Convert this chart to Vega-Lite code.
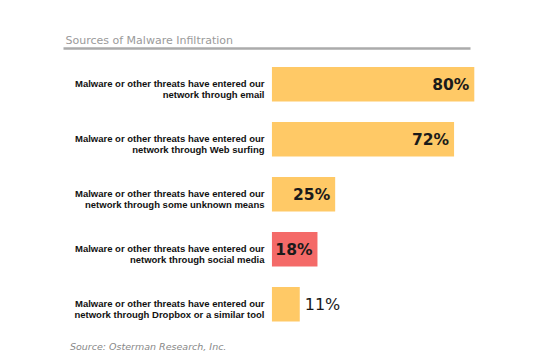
{
  "$schema": "https://vega.github.io/schema/vega-lite/v6.json",
  "autosize": "none",
  "width": 407,
  "height": 292.5,
  "padding": {"left": 63, "top": 48, "right": 85, "bottom": 18.5},
  "background": "white",
  "config": {"view": {"stroke": null}},
  "title": {
    "text": "Source: Osterman Research, Inc.",
    "orient": "bottom",
    "anchor": "start",
    "frame": "bounds",
    "font": "DejaVu Sans",
    "fontStyle": "italic",
    "fontWeight": "normal",
    "fontSize": 9.5,
    "color": "#888888",
    "dx": 7,
    "offset": 1
  },
  "data": {
    "values": [
      {"label": "Malware or other threats have entered our|network through email", "value": 80, "pct": "80%"},
      {"label": "Malware or other threats have entered our|network through Web surfing", "value": 72, "pct": "72%"},
      {"label": "Malware or other threats have entered our|network through some unknown means", "value": 25, "pct": "25%"},
      {"label": "Malware or other threats have entered our|network through social media", "value": 18, "pct": "18%"},
      {"label": "Malware or other threats have entered our|network through Dropbox or a similar tool", "value": 11, "pct": "11%"}
    ]
  },
  "encoding": {
    "y": {
      "field": "label",
      "type": "nominal",
      "sort": null,
      "scale": {"paddingInner": 0.373, "paddingOuter": 0.345},
      "axis": {
        "title": null,
        "orient": "left",
        "offset": -201,
        "domain": false,
        "ticks": false,
        "labelPadding": 0,
        "labelAlign": "right",
        "labelBaseline": "middle",
        "labelExpr": "split(datum.label, '|')",
        "labelLineHeight": 11,
        "labelLimit": 300,
        "labelFont": "Liberation Sans",
        "labelFontWeight": "bold",
        "labelFontSize": 9.5,
        "labelColor": "#111111"
      }
    },
    "x": {
      "field": "value",
      "type": "quantitative",
      "scale": {"domain": [-82.6, 78.3], "nice": false, "zero": false},
      "axis": {
        "orient": "top",
        "title": "Sources of Malware Infiltration",
        "titleAnchor": "start",
        "titleAlign": "left",
        "titleX": 2,
        "titleY": -5,
        "titleBaseline": "alphabetic",
        "titleFont": "DejaVu Sans",
        "titleFontWeight": "normal",
        "titleFontSize": 11,
        "titleColor": "#9a9a9a",
        "domain": true,
        "domainColor": "#ababab",
        "domainWidth": 2.5,
        "ticks": false,
        "labels": false,
        "grid": false
      }
    }
  },
  "layer": [
    {
      "mark": {"type": "bar"},
      "encoding": {
        "x2": {"datum": 0},
        "color": {
          "condition": {"test": "datum.value == 18", "value": "#F46A68"},
          "value": "#FFC966"
        }
      }
    },
    {
      "transform": [{"filter": "datum.value >= 15"}],
      "mark": {"type": "text", "align": "right", "baseline": "middle", "dx": -5, "dy": 1, "font": "DejaVu Sans", "fontWeight": "bold", "fontSize": 15.5, "color": "#1a1a1a"},
      "encoding": {"text": {"field": "pct", "type": "nominal"}}
    },
    {
      "transform": [{"filter": "datum.value < 15"}],
      "mark": {"type": "text", "align": "left", "baseline": "middle", "dx": 5, "dy": 1, "font": "DejaVu Sans", "fontWeight": "normal", "fontSize": 16, "color": "#1a1a1a"},
      "encoding": {"text": {"field": "pct", "type": "nominal"}}
    }
  ]
}
